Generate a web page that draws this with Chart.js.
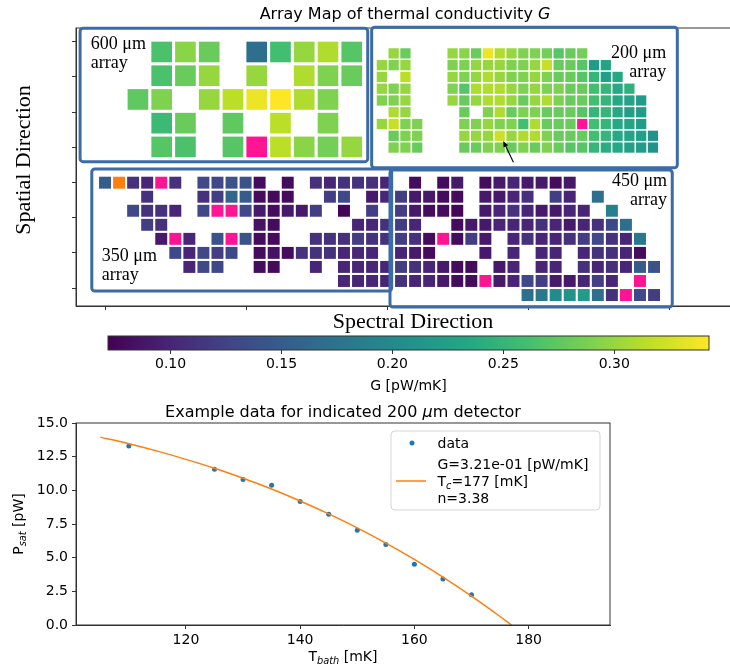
<!DOCTYPE html>
<html>
<head>
<meta charset="utf-8">
<script src="https://cdn.jsdelivr.net/npm/chart.js@4.4.0/dist/chart.umd.min.js"></script>
<style>
  html, body { margin: 0; padding: 0; background: #fff; overflow: hidden; }
  body { width: 730px; height: 667px; position: relative; }
  .wrap { position: absolute; left: 0; }
  #mapWrap { top: 0; width: 744px; height: 345px; }
  #barWrap { top: 330px; width: 730px; height: 65px; }
  #fitWrap { top: 395px; width: 730px; height: 272px; }
</style>
</head>
<body>
<div class="wrap" id="mapWrap"><canvas id="mapChart"></canvas></div>
<div class="wrap" id="barWrap"><canvas id="barChart"></canvas></div>
<div class="wrap" id="fitWrap"><canvas id="fitChart"></canvas></div>
<script>
const _ = null;
// thermal conductivity G [pW/mK] per pixel, row by row ('P' = pink flag, 'O' = orange flag)
const g600 = [
  [_, .265, .295, .28, _, .17, .26, .30, .31, .27],
  [_, .265, .28, .30, _, .30, _, .31, .29, .28],
  [.275, .29, _, .30, .315, .335, .343, .31, .29, _],
  [_, .255, .28, _, .275, _, .315, _, .29, _],
  [_, .27, .265, _, .27, 'P', .315, .295, .285, .30]
];
const g200 = [
  [_, .30, .28, _, _, _, .30, .295, .28, .335, .31, .30, .29, .29, .285, .27, .28, .285, _, _, _, _, _, _],
  [.30, .29, .30, _, _, _, .29, .29, .30, .30, .30, .29, .29, .30, .32, .28, .28, .27, .22, .23, _, _, _, _],
  [.30, _, .315, _, _, _, .30, .29, .30, .31, .30, .29, .29, .30, .29, .28, .28, .27, .25, .225, .235, _, _, _],
  [.30, .29, .30, _, _, _, .29, .27, .31, .31, .31, .30, .29, .30, .29, .29, .28, .28, .26, .25, .235, .245, _, _],
  [.29, .29, .30, _, _, _, .30, .28, .30, .31, .31, .30, .28, .30, .31, .29, .28, .28, .26, .25, .235, .23, .22, _],
  [_, .31, .30, _, _, _, _, .28, _, .29, .31, .28, .29, .29, .28, .28, .28, .27, .25, .25, .235, .225, .22, _],
  [.30, .32, .29, .29, _, _, _, .29, .29, .30, .29, .29, .26, .31, .28, .28, .28, 'P', .26, .25, .235, .23, .22, _],
  [_, .28, .29, .29, _, _, _, .30, .30, .30, .321, .30, .31, .31, .29, .28, .28, .28, .26, .25, .235, .23, .225, .21],
  [_, .29, .29, .28, _, _, _, .28, .28, .29, .29, .28, .29, .28, .29, .28, .27, .27, .25, .24, .235, .225, .22, .21]
];
const g350 = [
  [.15, 'O', .11, .10, 'P', .11, _, .13, .13, .14, .14, .08, _, .08, _, .11, .10, .11, .11, .11, .10],
  [_, _, _, .11, _, _, _, .11, .12, .16, .15, .08, .08, .08, _, _, .12, .13, _, .09, .10],
  [_, _, .13, .11, .11, .10, _, .13, 'P', 'P', .13, .09, .08, .09, .09, .12, _, .075, _, .12, _],
  [_, _, _, .12, .11, _, _, _, _, _, _, .085, .08, _, _, _, _, _, .10, .10, .11],
  [_, _, _, _, .09, 'P', .10, _, .14, 'P', .14, .08, .08, _, _, .11, .11, .11, .12, .11, .11],
  [_, _, _, _, _, .13, .10, .13, .12, .13, _, .08, .085, .08, .11, .11, .11, .10, .10, .10, _],
  [_, _, _, _, _, _, .10, .13, .13, _, _, .08, .08, _, _, .10, _, .10, .10, .10, .10],
  [_, _, _, _, _, _, _, _, _, _, _, _, _, _, _, _, _, .10, .10, .10, .10]
];
const g450 = [
  [_, .08, _, .08, .09, _, .08, .09, .10, .09, .09, .08, .09, _, _, _, _, _, _],
  [.12, .09, .09, .08, .08, _, .09, .09, .10, .11, _, .12, .10, _, .17, _, _, _, _],
  [.12, .09, .08, .08, .075, _, .09, .10, .11, .10, .09, .09, .10, .10, _, .19, _, _, _],
  [.12, .10, _, _, .08, .09, .09, .10, .10, .10, .11, .10, .09, .10, .11, .13, .17, _, _],
  [.12, .11, .08, 'P', .08, .12, .09, _, .10, .11, .10, .10, .11, .12, .13, .11, .10, .18, _],
  [.10, .09, .08, _, _, _, .09, _, .10, _, .10, .10, _, .10, .11, .11, .10, .08, _],
  [.12, .11, .10, .09, .08, .08, _, .09, .10, _, .10, .10, _, .11, .10, .11, .10, .15, .14],
  [.11, .10, .10, .09, .08, .08, 'P', .09, .10, .13, .12, .09, .09, .10, .12, .10, _, 'P', _],
  [_, _, _, _, _, _, _, _, _, .17, .18, .20, .21, .22, .17, .11, 'P', .13, .12]
];
const arrayNames = ['600 μm', '200 μm', '350 μm', '450 μm'];
const pickedPixel = { array: 1, row: 7, col: 10 };

const gMin = 0.0718, gMax = 0.3427;
const gTicks = [0.10, 0.15, 0.20, 0.25, 0.30];
const mapXTicks = [0, 10, 20, 30, 40];
const mapYTicks = [0, 2.5, 5, 7.5, 10, 12.5, 15, 17.5];

// example detector
const tBath = [110, 125, 130, 135, 140, 145, 150, 155, 160, 165, 170];
const pSat = [13.29, 11.56, 10.80, 10.38, 9.17, 8.23, 7.04, 5.98, 4.52, 3.41, 2.25];
const tFit = [105, 110, 115, 120, 125, 130, 135, 140, 145, 150, 155, 160, 165, 170, 175, 177];
const pFit = [13.95, 13.46, 12.91, 12.30, 11.64, 10.90, 10.10, 9.21, 8.25, 7.21, 6.08, 4.87, 3.55, 2.14, 0.63, 0];
const tTicks = [120, 140, 160, 180];
const pTicks = [0, 2.5, 5, 7.5, 10, 12.5, 15];
const fitText = { G: '3.21e-01', Tc: '177', n: '3.38' };

// where each array sits on the map (map units), same order as arrayNames
const placement = [
  { x0: 1.60, y0: 0.00, pitch: 1.685, fill: 0.87, frame: [-1.77, -0.95, 18.63, 8.52], lx: -1.01, ly: 0.54, align: 'left' },
  { x0: 19.27, y0: 0.469, pitch: 0.836, fill: 0.87, frame: [18.91, -1.02, 40.59, 8.95], lx: 39.8, ly: 1.18, align: 'right' },
  { x0: -0.426, y0: 9.59, pitch: 0.997, fill: 0.85, frame: [-0.94, 9.04, 20.33, 17.71], lx: -0.23, ly: 15.58, align: 'left' },
  { x0: 20.57, y0: 9.59, pitch: 0.997, fill: 0.85, frame: [20.21, 9.11, 40.23, 18.84], lx: 39.86, ly: 10.25, align: 'right' }
];
const grids = [g600, g200, g350, g450];

const viridis = ['#440154', '#482475', '#414487', '#355f8d', '#2a788e', '#21918c',
  '#22a884', '#44bf70', '#7ad151', '#bddf26', '#fde725'];
const viridisRgb = viridis.map(h => [1, 3, 5].map(i => parseInt(h.substr(i, 2), 16)));
function gColor(g) {
  if (g === 'P') return '#ff1493';
  if (g === 'O') return '#ff7f0e';
  const t = Math.max(0, Math.min(1, (g - gMin) / (gMax - gMin)));
  const f = t * 10, i = Math.min(9, Math.floor(f)), u = f - i;
  const a = viridisRgb[i], b = viridisRgb[i + 1];
  return 'rgb(' + a.map((v, k) => Math.round(v + (b[k] - v) * u)).join(',') + ')';
}

Chart.defaults.font.family = 'DejaVu Sans';
Chart.defaults.color = '#000';

function richText(ctx, parts, x, y, size, align, family) {
  family = family || 'DejaVu Sans';
  parts = parts.map(p => typeof p === 'string' ? { t: p } : p);
  const font = p => (p.i ? 'italic ' : '') + (p.s ? size * 0.7 : size) + 'px "' + family + '"';
  let w = 0;
  parts.forEach(p => { ctx.font = font(p); w += ctx.measureText(p.t).width; });
  let cx = x - (align === 'center' ? w / 2 : align === 'right' ? w : 0);
  ctx.textAlign = 'left';
  ctx.textBaseline = 'alphabetic';
  ctx.fillStyle = '#000';
  parts.forEach(p => {
    ctx.font = font(p);
    ctx.fillText(p.t, cx, y + (p.s ? size * 0.22 : 0));
    cx += ctx.measureText(p.t).width;
  });
}

function cellPoints(grid, L) {
  const pts = [];
  grid.forEach((row, r) => row.forEach((g, c) => {
    if (g === null) return;
    pts.push({ x: L.x0 + (c + L.fill / 2) * L.pitch, y: L.y0 + (r + L.fill / 2) * L.pitch, g: g });
  }));
  return pts;
}

function fixedTicks(list) {
  return s => { s.ticks = list.map(v => ({ value: v })); };
}

const spineGrid = { drawOnChartArea: false, drawTicks: true, tickLength: 4, color: '#333', lineWidth: 1 };

// ---------- array map ----------
const mapDecor = {
  id: 'mapDecor',
  afterDraw(chart) {
    const { ctx, chartArea: a, scales: { x, y } } = chart;
    ctx.save();
    ctx.strokeStyle = '#333';
    ctx.lineWidth = 1;
    ctx.strokeRect(a.left, a.top, a.right - a.left, a.bottom - a.top);

    // frames round each array
    ctx.strokeStyle = '#3c6ca8';
    ctx.lineWidth = 3;
    placement.forEach(L => {
      const [x1, y1, x2, y2] = L.frame;
      const px1 = x.getPixelForValue(x1), py1 = y.getPixelForValue(y1);
      const px2 = x.getPixelForValue(x2), py2 = y.getPixelForValue(y2);
      ctx.beginPath();
      ctx.roundRect(px1, py1, px2 - px1, py2 - py1, 3);
      ctx.stroke();
    });

    // array labels
    placement.forEach((L, k) => {
      const px = x.getPixelForValue(L.lx), py = y.getPixelForValue(L.ly);
      richText(ctx, [arrayNames[k]], px, py, 18, L.align, 'Liberation Serif');
      richText(ctx, ['array'], px, py + 19, 18, L.align, 'Liberation Serif');
    });

    // arrow to the example pixel
    const P = placement[pickedPixel.array];
    const tx = P.x0 + (pickedPixel.col + P.fill / 2) * P.pitch + 0.25;
    const ty = P.y0 + (pickedPixel.row + P.fill) * P.pitch;
    const hx = x.getPixelForValue(tx), hy = y.getPixelForValue(ty);
    const sx = x.getPixelForValue(tx + 0.72), sy = y.getPixelForValue(ty + 1.52);
    const ang = Math.atan2(hy - sy, hx - sx);
    ctx.strokeStyle = '#000';
    ctx.fillStyle = '#000';
    ctx.lineWidth = 1.1;
    ctx.beginPath();
    ctx.moveTo(sx, sy);
    ctx.lineTo(hx - 4 * Math.cos(ang), hy - 4 * Math.sin(ang));
    ctx.stroke();
    ctx.beginPath();
    ctx.moveTo(hx, hy);
    ctx.lineTo(hx - 6 * Math.cos(ang) + 2.5 * Math.sin(ang), hy - 6 * Math.sin(ang) - 2.5 * Math.cos(ang));
    ctx.lineTo(hx - 6 * Math.cos(ang) - 2.5 * Math.sin(ang), hy - 6 * Math.sin(ang) + 2.5 * Math.cos(ang));
    ctx.closePath();
    ctx.fill();

    // titles
    richText(ctx, ['Array Map of thermal conductivity ', { t: 'G', i: true }], (a.left + a.right) / 2, 18.5, 16, 'center');
    richText(ctx, ['Spectral Direction'], 413, 328, 22, 'center', 'Liberation Serif');
    ctx.translate(30, 160);
    ctx.rotate(-Math.PI / 2);
    richText(ctx, ['Spatial Direction'], 0, 0, 22, 'center', 'Liberation Serif');
    ctx.restore();
  }
};

new Chart(document.getElementById('mapChart'), {
  type: 'scatter',
  data: {
    datasets: grids.map((grid, k) => {
      const L = placement[k];
      return {
        label: arrayNames[k],
        data: cellPoints(grid, L),
        pointStyle: 'rect',
        borderWidth: 0,
        pointRadius: ctx => {
          const s = ctx.chart.scales.x;
          if (!s) return 3;
          return Math.abs(s.getPixelForValue(L.fill * L.pitch) - s.getPixelForValue(0)) / Math.SQRT2;
        },
        backgroundColor: ctx => ctx.raw ? gColor(ctx.raw.g) : '#888'
      };
    })
  },
  options: {
    responsive: true, maintainAspectRatio: false, animation: false, events: [],
    layout: { padding: { left: 66, right: 10, top: 28, bottom: 29 } },
    plugins: { legend: { display: false }, tooltip: { enabled: false } },
    scales: {
      x: {
        type: 'linear', min: -2.06, max: 44.61,
        afterBuildTicks: fixedTicks(mapXTicks),
        ticks: { display: false },
        grid: spineGrid, border: { color: '#333' },
        afterFit: s => { s.height = 10; }
      },
      y: {
        type: 'linear', reverse: true, min: -0.97, max: 18.77,
        afterBuildTicks: fixedTicks(mapYTicks),
        ticks: { display: false },
        grid: spineGrid, border: { color: '#333' },
        afterFit: s => { s.width = 10; }
      }
    }
  },
  plugins: [mapDecor]
});

// ---------- colour bar ----------
const barFill = {
  id: 'barFill',
  beforeDatasetsDraw(chart) {
    const { ctx, chartArea: a } = chart;
    const grad = ctx.createLinearGradient(a.left, 0, a.right, 0);
    viridis.forEach((c, i) => grad.addColorStop(i / (viridis.length - 1), c));
    ctx.save();
    ctx.fillStyle = grad;
    ctx.fillRect(a.left, a.top, a.right - a.left, a.bottom - a.top);
    ctx.strokeStyle = '#333';
    ctx.lineWidth = 1;
    ctx.strokeRect(a.left, a.top, a.right - a.left, a.bottom - a.top);
    ctx.restore();
  }
};

new Chart(document.getElementById('barChart'), {
  type: 'scatter',
  data: { datasets: [] },
  options: {
    responsive: true, maintainAspectRatio: false, animation: false, events: [],
    layout: { padding: { left: 108, right: 21, top: 6, bottom: 0 } },
    plugins: { legend: { display: false }, tooltip: { enabled: false } },
    scales: {
      x: {
        type: 'linear', min: gMin, max: gMax,
        afterBuildTicks: fixedTicks(gTicks),
        ticks: { callback: v => v.toFixed(2), font: { size: 14 }, color: '#000', padding: 2 },
        grid: spineGrid, border: { display: false },
        title: { display: true, text: 'G [pW/mK]', font: { size: 14 }, color: '#000', padding: 0 },
        afterFit: s => { s.height = 45; }
      },
      y: { display: false, min: 0, max: 1 }
    }
  },
  plugins: [barFill]
});

// ---------- example detector fit ----------
const fitDecor = {
  id: 'fitDecor',
  afterDraw(chart) {
    const { ctx, chartArea: a } = chart;
    ctx.save();
    ctx.strokeStyle = '#333';
    ctx.lineWidth = 1;
    ctx.strokeRect(a.left, a.top, a.right - a.left, a.bottom - a.top);

    richText(ctx, ['Example data for indicated 200 ', { t: 'μ', i: true }, 'm detector'], (a.left + a.right) / 2, 21.5, 16, 'center');
    richText(ctx, ['T', { t: 'bath', i: true, s: true }, ' [mK]'], (a.left + a.right) / 2, 266, 14, 'center');

    // legend
    const bw = 209, bh = 79;
    const bx = a.right - 10 - bw, by = a.top + 8;
    ctx.beginPath();
    ctx.roundRect(bx, by, bw, bh, 4);
    ctx.fillStyle = 'rgba(255,255,255,0.8)';
    ctx.fill();
    ctx.strokeStyle = '#d5d5d5';
    ctx.lineWidth = 1;
    ctx.stroke();
    ctx.fillStyle = '#1f77b4';
    ctx.beginPath();
    ctx.arc(bx + 21, by + 12, 2.5, 0, 2 * Math.PI);
    ctx.fill();
    ctx.strokeStyle = '#ff7f0e';
    ctx.lineWidth = 1.5;
    ctx.beginPath();
    ctx.moveTo(bx + 5, by + 50);
    ctx.lineTo(bx + 35, by + 50);
    ctx.stroke();
    const tx = bx + 46.5;
    richText(ctx, ['data'], tx, by + 17, 14, 'left');
    richText(ctx, ['G=' + fitText.G + ' [pW/mK]'], tx, by + 37.5, 14, 'left');
    richText(ctx, ['T', { t: 'c', i: true, s: true }, '=' + fitText.Tc + ' [mK]'], tx, by + 55, 14, 'left');
    richText(ctx, ['n=' + fitText.n], tx, by + 71.5, 14, 'left');

    ctx.translate(23, (a.top + a.bottom) / 2);
    ctx.rotate(-Math.PI / 2);
    richText(ctx, ['P', { t: 'sat', i: true, s: true }, ' [pW]'], 0, 0, 14, 'center');
    ctx.restore();
  }
};

new Chart(document.getElementById('fitChart'), {
  type: 'scatter',
  data: {
    datasets: [
      {
        label: 'fit', type: 'line',
        data: tFit.map((t, i) => ({ x: t, y: pFit[i] })),
        borderColor: '#ff7f0e', borderWidth: 1.5, pointRadius: 0,
        cubicInterpolationMode: 'monotone', fill: false, order: 0
      },
      {
        label: 'data',
        data: tBath.map((t, i) => ({ x: t, y: pSat[i] })),
        backgroundColor: '#1f77b4', borderWidth: 0, pointRadius: 2.5, order: 1
      }
    ]
  },
  options: {
    responsive: true, maintainAspectRatio: false, animation: false, events: [],
    layout: { padding: { left: 0, right: 120, top: 28, bottom: 0 } },
    plugins: { legend: { display: false }, tooltip: { enabled: false } },
    scales: {
      x: {
        type: 'linear', min: 100.75, max: 194.25,
        afterBuildTicks: fixedTicks(tTicks),
        ticks: { font: { size: 14 }, color: '#000', padding: 3 },
        grid: spineGrid, border: { color: '#333' },
        afterFit: s => { s.height = 42; }
      },
      y: {
        type: 'linear', min: 0, max: 15,
        afterBuildTicks: fixedTicks(pTicks),
        ticks: { font: { size: 14 }, color: '#000', padding: 4, callback: v => v.toFixed(1) },
        grid: spineGrid, border: { color: '#333' },
        afterFit: s => { s.width = 76; }
      }
    }
  },
  plugins: [fitDecor]
});
</script>
</body>
</html>
